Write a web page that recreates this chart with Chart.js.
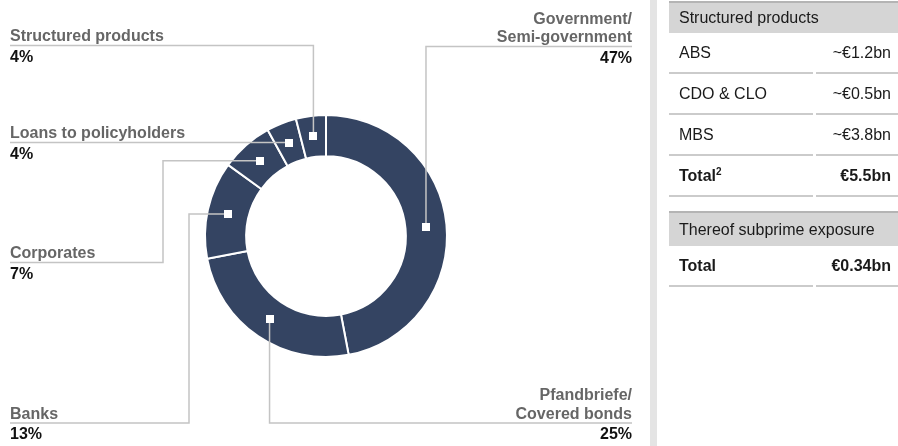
<!DOCTYPE html>
<html>
<head>
<meta charset="utf-8">
<script src="https://cdn.jsdelivr.net/npm/chart.js@4.4.1/dist/chart.umd.min.js"></script>
<style>
    html, body { margin: 0; padding: 0; background: #fff; }
    body { width: 898px; height: 446px; position: relative; overflow: hidden; font-family: 'Liberation Sans', Arial, sans-serif; }
    #wrap { position: absolute; left: 0; top: 0; width: 898px; height: 446px; }
    .sidebar { position: absolute; left: 650px; top: 0; width: 7px; height: 446px; background: #e4e4e4; }
    .tbl { position: absolute; left: 669px; width: 229px; color: #1a1a1a; font-size: 16px; }
    .head { background: #d5d5d5; border-top: 2px solid #b4b4b4; padding-left: 10px; }
    .row { display: flex; height: 41px; }
    .row div { border-bottom: 2px solid #cbcbcb; line-height: 40px; }
    .row .k { width: 134px; padding-left: 10px; margin-right: 3px; }
    .row .v { flex: 1; text-align: right; padding-right: 7px; }
    .bold { font-weight: bold; }
    sup { font-size: 10px; line-height: 0; vertical-align: 6px; }
</style>
</head>
<body>
<div id="wrap"><canvas id="portfolioChart"></canvas></div>
<div class="sidebar"></div>
<div class="tbl" id="tbl1" style="top:1px"></div>
<div class="tbl" id="tbl2" style="top:211px"></div>
<script>
// data donut
const categories = ['Government/\nSemi-government', 'Pfandbriefe/\nCovered bonds', 'Banks', 'Corporates', 'Loans to policyholders', 'Structured products'];
const shares = [47, 25, 13, 7, 4, 4];

// data tabel kanan
const structuredRows = ['ABS', 'CDO & CLO', 'MBS'];
const structuredValues = ['~€1.2bn', '~€0.5bn', '~€3.8bn'];
const structuredTotal = '€5.5bn';
const subprimeTotal = '€0.34bn';

// posisi label (kiri/kanan, garis bawah, siku)
const labelLayout = [
    { side: 'right', lineY: 46.5, elbowX: null },
    { side: 'right', lineY: 423, elbowX: null },
    { side: 'left', lineY: 423, elbowX: 189 },
    { side: 'left', lineY: 262.5, elbowX: 163 },
    { side: 'left', lineY: null, elbowX: null },
    { side: 'left', lineY: 45.5, elbowX: null },
];

function buildTable() {
    let html = '<div class="head" style="height:30px;line-height:30px">Structured products</div>';
    structuredRows.forEach((r, i) => {
        html += `<div class="row"><div class="k">${r}</div><div class="v">${structuredValues[i]}</div></div>`;
    });
    html += `<div class="row bold"><div class="k">Total<sup>2</sup></div><div class="v">${structuredTotal}</div></div>`;
    document.getElementById('tbl1').innerHTML = html;
    document.getElementById('tbl2').innerHTML = '<div class="head" style="height:33px;line-height:33px">Thereof subprime exposure</div>' +
        `<div class="row bold"><div class="k">Total</div><div class="v">${subprimeTotal}</div></div>`;
}

const leaderPlugin = {
    id: 'leaders',
    afterDatasetsDraw(chart) {
        const ctx = chart.ctx;
        const arcs = chart.getDatasetMeta(0).data;
        ctx.save();
        ctx.strokeStyle = '#c4c4c4';
        ctx.lineWidth = 1.5;
        arcs.forEach((arc, i) => {
            const p = arc.tooltipPosition();
            const lay = labelLayout[i];
            const lineY = lay.lineY === null ? p.y : lay.lineY;
            const elbowX = lay.elbowX === null ? p.x : lay.elbowX;
            const endX = lay.side === 'left' ? 10 : 632;
            ctx.beginPath();
            ctx.moveTo(p.x, p.y);
            ctx.lineTo(elbowX, p.y);
            ctx.lineTo(elbowX, lineY);
            ctx.lineTo(endX, lineY);
            ctx.stroke();

            // teks label
            const lines = categories[i].split('\n');
            ctx.textAlign = lay.side === 'left' ? 'left' : 'right';
            ctx.textBaseline = 'alphabetic';
            ctx.font = 'bold 16px "Liberation Sans", Arial, sans-serif';
            ctx.fillStyle = '#666666';
            lines.forEach((t, j) => {
                ctx.fillText(t, endX, lineY - 4.5 - (lines.length - 1 - j) * 18.5);
            });
            ctx.fillStyle = '#111111';
            ctx.fillText(shares[i] + '%', endX, lineY + 16);
        });
        // kotak putih
        ctx.fillStyle = '#ffffff';
        arcs.forEach((arc) => {
            const p = arc.tooltipPosition();
            ctx.fillRect(Math.round(p.x) - 4, Math.round(p.y) - 4, 8, 8);
        });
        ctx.restore();
    }
};

function initPortfolioChart() {
    const ctx = document.getElementById('portfolioChart');
    if (!ctx) return;

    new Chart(ctx, {
        type: 'doughnut',
        data: {
            labels: categories,
            datasets: [{
                data: shares,
                backgroundColor: '#344462',
                borderColor: '#ffffff',
                borderWidth: 2,
                borderAlign: 'center',
            }],
        },
        options: {
            responsive: true,
            maintainAspectRatio: false,
            animation: false,
            cutout: '66%',
            layout: {
                padding: { left: 204, right: 450, top: 114, bottom: 88 }
            },
            plugins: {
                legend: { display: false },
                tooltip: { enabled: false }
            },
        },
        plugins: [leaderPlugin],
    });
}

buildTable();
initPortfolioChart();
</script>
</body>
</html>
